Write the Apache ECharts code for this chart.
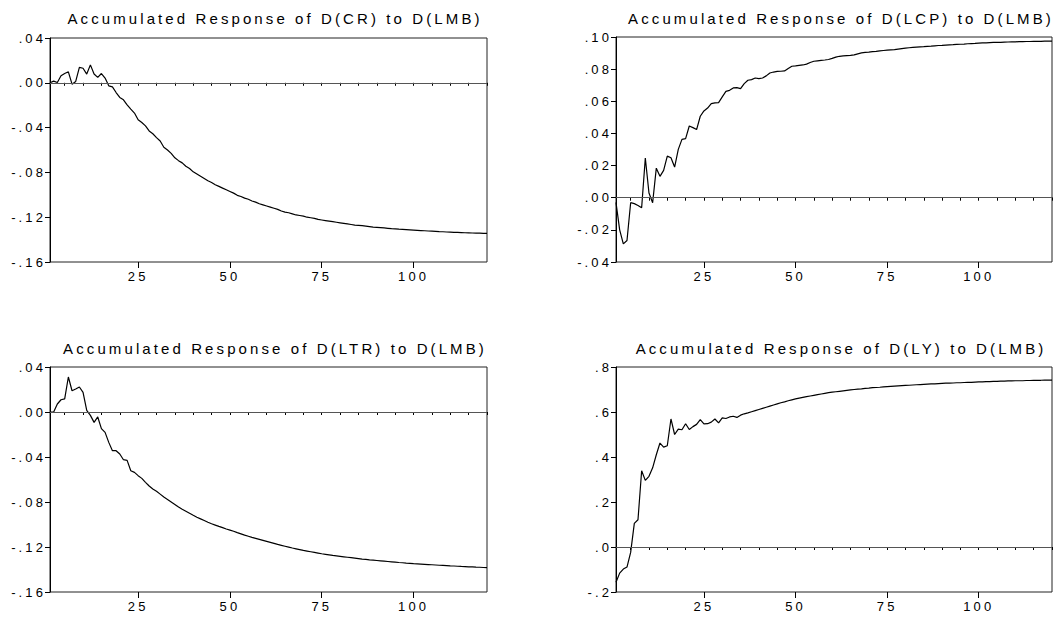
<!DOCTYPE html>
<html>
<head>
<meta charset="utf-8">
<script src="https://cdn.jsdelivr.net/npm/echarts@6/dist/echarts.min.js"></script>
<style>
  html, body { margin: 0; padding: 0; background: #fff; }
  #c { width: 1056px; height: 619px; }
  #c svg text { letter-spacing: 3.1px; }
</style>
</head>
<body>
<div id="c"></div>
<script>
// Periods 1..120
var periods = [];
for (var i = 1; i <= 120; i++) periods.push(String(i));

var titles = [
  'Accumulated Response of D(CR) to D(LMB)',
  'Accumulated Response of D(LCP) to D(LMB)',
  'Accumulated Response of D(LTR) to D(LMB)',
  'Accumulated Response of D(LY) to D(LMB)'
];

var crResponse = [
  0.000, 0.0015, 0.0003, 0.0063, 0.0083, 0.0098, -0.0012, 0.0012, 0.0137, 0.013,
  0.0078, 0.016, 0.0078, 0.0048, 0.0083, 0.0042, -0.0027, -0.0036, -0.0087, -0.0131,
  -0.0152, -0.0197, -0.0235, -0.027, -0.033, -0.0355, -0.0385, -0.043, -0.0455, -0.049,
  -0.052, -0.0575, -0.060, -0.063, -0.067, -0.0695, -0.0715, -0.0745, -0.0765, -0.0795,
  -0.0815, -0.0835, -0.0855, -0.0875, -0.089, -0.091, -0.0925, -0.094, -0.0955, -0.097,
  -0.0985, -0.1005, -0.1015, -0.103, -0.104, -0.1055, -0.1065, -0.108, -0.109, -0.110,
  -0.111, -0.112, -0.113, -0.1145, -0.1155, -0.116, -0.117, -0.118, -0.1185, -0.119,
  -0.120, -0.1205, -0.121, -0.122, -0.1225, -0.123, -0.1235, -0.124, -0.1245, -0.125,
  -0.1255, -0.126, -0.1265, -0.127, -0.1273, -0.1276, -0.128, -0.1284, -0.1288, -0.129,
  -0.1293, -0.1296, -0.1299, -0.1302, -0.1304, -0.1307, -0.1309, -0.1311, -0.1313, -0.1315,
  -0.1317, -0.1319, -0.1321, -0.1323, -0.1325, -0.1327, -0.1329, -0.133, -0.1332, -0.1333,
  -0.1335, -0.1336, -0.1337, -0.1339, -0.134, -0.1341, -0.1342, -0.1343, -0.1344, -0.1345
];

var lcpResponse = [
  -0.003, -0.020, -0.0287, -0.0266, -0.0031, -0.0037, -0.0048, -0.0062, 0.0247, 0.0029,
  -0.0031, 0.0184, 0.0133, 0.017, 0.0259, 0.0249, 0.0191, 0.0301, 0.0363, 0.0368,
  0.0446, 0.0436, 0.0424, 0.0507, 0.054, 0.0558, 0.0585, 0.059, 0.0592, 0.0627,
  0.0662, 0.0668, 0.0683, 0.0685, 0.0679, 0.071, 0.0731, 0.0735, 0.0745, 0.0741,
  0.0745, 0.0758, 0.0776, 0.0782, 0.0786, 0.0787, 0.0789, 0.0804, 0.0818, 0.082,
  0.0823, 0.0826, 0.0831, 0.0841, 0.0849, 0.0852, 0.0855, 0.0857, 0.086, 0.0867,
  0.0875, 0.088, 0.0882, 0.0884, 0.0886, 0.0889, 0.0895, 0.0901, 0.0904, 0.0906,
  0.0909, 0.0911, 0.0914, 0.0916, 0.0918, 0.092, 0.0922, 0.0925, 0.0928, 0.0931,
  0.0933, 0.0935, 0.0937, 0.0939, 0.094, 0.0942, 0.0943, 0.0945, 0.0947, 0.0948,
  0.095, 0.0951, 0.0952, 0.0954, 0.0955, 0.0956, 0.0958, 0.0959, 0.096, 0.0962,
  0.0963, 0.0964, 0.0965, 0.0966, 0.0966, 0.0967, 0.0968, 0.0969, 0.097, 0.097,
  0.0971, 0.0971, 0.0972, 0.0972, 0.0973, 0.0973, 0.0973, 0.0974, 0.0974, 0.0974
];

var ltrResponse = [
  0.000, 0.000, 0.0071, 0.0109, 0.0116, 0.0311, 0.0189, 0.0204, 0.0222, 0.0174,
  0.0015, -0.003, -0.0092, -0.0044, -0.0148, -0.0181, -0.027, -0.0344, -0.0344, -0.0373,
  -0.0424, -0.043, -0.0522, -0.0537, -0.0566, -0.059, -0.0625, -0.0658, -0.0685, -0.0705,
  -0.073, -0.0756, -0.0778, -0.080, -0.0822, -0.0845, -0.0865, -0.0882, -0.090, -0.0918,
  -0.0935, -0.095, -0.0965, -0.098, -0.0993, -0.1005, -0.1017, -0.1028, -0.104, -0.105,
  -0.106, -0.1072, -0.1083, -0.1094, -0.1104, -0.1114, -0.1123, -0.1132, -0.1141, -0.115,
  -0.1159, -0.1168, -0.1177, -0.1185, -0.1193, -0.1201, -0.1209, -0.1216, -0.1223, -0.123,
  -0.1236, -0.1242, -0.1248, -0.1254, -0.126, -0.1265, -0.127, -0.1275, -0.1279, -0.1283,
  -0.1287, -0.1291, -0.1295, -0.1299, -0.1303, -0.1307, -0.131, -0.1314, -0.1317, -0.132,
  -0.1323, -0.1326, -0.1329, -0.1332, -0.1335, -0.1338, -0.134, -0.1343, -0.1345, -0.1348,
  -0.135, -0.1352, -0.1354, -0.1356, -0.1358, -0.136, -0.1362, -0.1364, -0.1366, -0.1368,
  -0.1369, -0.1371, -0.1373, -0.1374, -0.1376, -0.1377, -0.1379, -0.138, -0.1382, -0.1383
];

var lyResponse = [
  -0.157, -0.116, -0.098, -0.089, -0.024, 0.105, 0.121, 0.339, 0.296, 0.314,
  0.352, 0.41, 0.462, 0.444, 0.45, 0.569, 0.50, 0.524, 0.521, 0.548,
  0.522, 0.535, 0.545, 0.566, 0.547, 0.548, 0.555, 0.569, 0.552, 0.574,
  0.571, 0.578, 0.581, 0.576, 0.586, 0.592, 0.596, 0.601, 0.606, 0.611,
  0.616, 0.621, 0.626, 0.631, 0.636, 0.641, 0.645, 0.65, 0.654, 0.658,
  0.662, 0.665, 0.668, 0.671, 0.674, 0.677, 0.68, 0.683, 0.686, 0.688,
  0.69, 0.692, 0.694, 0.696, 0.698, 0.7, 0.702, 0.703, 0.705, 0.706,
  0.708, 0.709, 0.71, 0.712, 0.713, 0.714, 0.715, 0.716, 0.717, 0.718,
  0.719, 0.72, 0.721, 0.722, 0.723, 0.724, 0.725, 0.725, 0.726, 0.727,
  0.728, 0.728, 0.729, 0.73, 0.73, 0.731, 0.732, 0.732, 0.733, 0.734,
  0.734, 0.735, 0.735, 0.736, 0.736, 0.737, 0.737, 0.738, 0.738, 0.739,
  0.739, 0.739, 0.74, 0.74, 0.741, 0.741, 0.741, 0.742, 0.742, 0.742
];

// y axis ranges [min, max, interval, decimals]
var yRanges = [
  [-0.16, 0.04, 0.04, 2],
  [-0.04, 0.10, 0.02, 2],
  [-0.16, 0.04, 0.04, 2],
  [-0.2, 0.8, 0.2, 1]
];

var seriesData = [crResponse, lcpResponse, ltrResponse, lyResponse];

var grids = [
  { left: 50, top: 38, width: 437, height: 224 },
  { left: 616, top: 37, width: 436, height: 225 },
  { left: 50, top: 367, width: 437, height: 225 },
  { left: 616, top: 367, width: 436, height: 225 }
];
var titlePos = [[270, 6], [836, 6], [270, 336], [836, 336]];

function fmt(v, d) {
  if (Math.abs(v) < 1e-9) v = 0;
  var s = v.toFixed(d);
  return s.replace('0.', '.');
}

var FONT = 'Arial, "Liberation Sans", sans-serif';
var option = {
  backgroundColor: '#fff',
  animation: false,
  title: [],
  grid: [],
  xAxis: [],
  yAxis: [],
  series: []
};

for (var k = 0; k < 4; k++) {
  var g = grids[k];
  option.grid.push({
    left: g.left, top: g.top, width: g.width, height: g.height,
    show: true, borderColor: '#222', borderWidth: 1, backgroundColor: 'transparent'
  });
  option.title.push({
    text: titles[k],
    left: titlePos[k][0], top: titlePos[k][1],
    textAlign: 'center',
    textStyle: { fontFamily: FONT, fontSize: 15, fontWeight: 'normal', color: '#000' }
  });
  // main x axis: labels and minor ticks
  option.xAxis.push({
    type: 'category', gridIndex: k, data: periods, boundaryGap: false, position: 'bottom',
    axisLine: { show: true, lineStyle: { color: '#000', width: 1 } },
    axisTick: { show: true, length: 3, interval: function (i) { return (i + 1) % 5 === 0; },
      lineStyle: { color: '#000' } },
    axisLabel: { show: true, margin: 8, interval: function (i) { return (i + 1) % 25 === 0; },
      fontFamily: FONT, fontSize: 13, color: '#000' },
    splitLine: { show: false }
  });
  // secondary x axis: major ticks only
  option.xAxis.push({
    type: 'category', gridIndex: k, data: periods, boundaryGap: false, position: 'bottom',
    axisLine: { show: false },
    axisTick: { show: true, length: 6, interval: function (i) { return (i + 1) % 25 === 0; },
      lineStyle: { color: '#000' } },
    axisLabel: { show: false },
    splitLine: { show: false }
  });
  (function (r) {
    option.yAxis.push({
      type: 'value', gridIndex: k, min: r[0], max: r[1], interval: r[2],
      axisLine: { show: true, lineStyle: { color: '#000', width: 1 } },
      axisTick: { show: true, length: 5, lineStyle: { color: '#000' } },
      axisLabel: { margin: 4, fontFamily: FONT, fontSize: 13, color: '#000',
        formatter: function (v) { return fmt(v, r[3]); } },
      splitLine: { show: false }
    });
  })(yRanges[k]);
  option.series.push({
    type: 'line', xAxisIndex: 2 * k, yAxisIndex: k,
    data: seriesData[k], showSymbol: false, symbol: 'none',
    lineStyle: { color: '#000', width: 1.2 },
    markLine: {
      silent: true, symbol: 'none', label: { show: false },
      lineStyle: { color: '#555', width: 1, type: 'solid' },
      data: [{ yAxis: 0 }]
    }
  });
}

var chart = echarts.init(document.getElementById('c'), null, { renderer: 'svg' });
chart.setOption(option);
</script>
</body>
</html>
